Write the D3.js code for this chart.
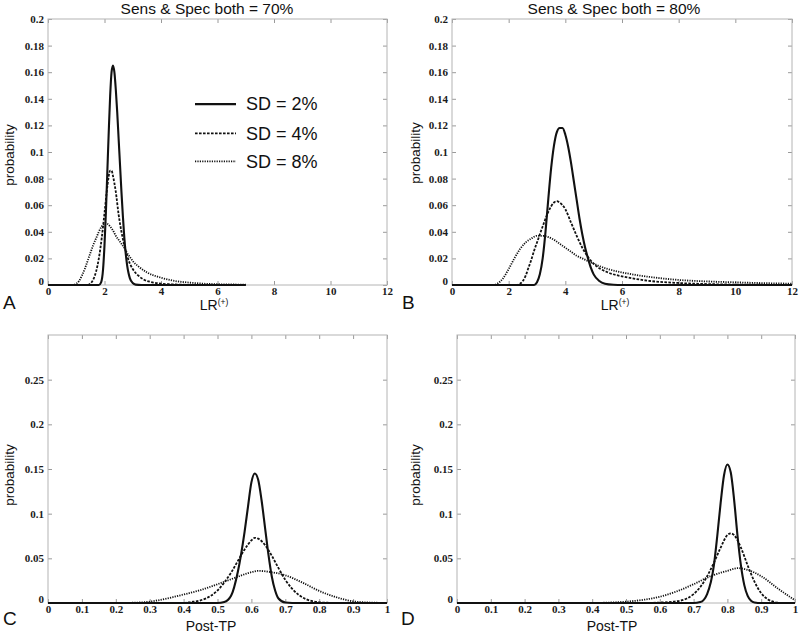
<!DOCTYPE html>
<html><head><meta charset="utf-8">
<script src="https://cdn.jsdelivr.net/npm/d3@7"></script>
<style>body{margin:0;background:#fff}svg{display:block}</style>
</head><body>
<svg id="chart" width="800" height="636"></svg>
<script>
// ---------- data ----------
const lrTicks = [0, 2, 4, 6, 8, 10, 12];
const probTicksLR = [0, 0.02, 0.04, 0.06, 0.08, 0.1, 0.12, 0.14, 0.16, 0.18, 0.2];
const ptpTicks = [0, 0.1, 0.2, 0.3, 0.4, 0.5, 0.6, 0.7, 0.8, 0.9, 1];
const probTicksPTP = [0, 0.05, 0.1, 0.15, 0.2, 0.25];
const titles = ["Sens & Spec both = 70%", "Sens & Spec both = 80%"];
const legendLabels = ["SD = 2%", "SD = 4%", "SD = 8%"];
const panelLetters = ["A", "B", "C", "D"];

// Panel A: LR(+) with sens & spec 70%
const lr70_sd2 = [[0,0],[1.8,0],[1.88,0.002],[1.95,0.012],[2.0,0.03],[2.05,0.055],[2.1,0.085],[2.15,0.115],[2.2,0.142],[2.25,0.16],[2.3,0.165],[2.35,0.16],[2.4,0.147],[2.45,0.13],[2.5,0.11],[2.55,0.09],[2.6,0.07],[2.65,0.052],[2.7,0.036],[2.75,0.024],[2.8,0.015],[2.85,0.009],[2.9,0.005],[3.0,0.0015],[3.1,0.0003],[3.3,0],[7,0]];
const lr70_sd4 = [[0,0],[1.4,0],[1.5,0.001],[1.6,0.004],[1.7,0.01],[1.8,0.02],[1.9,0.035],[2.0,0.054],[2.1,0.074],[2.2,0.086],[2.25,0.086],[2.3,0.082],[2.4,0.07],[2.5,0.053],[2.6,0.04],[2.7,0.03],[2.8,0.022],[2.9,0.016],[3.0,0.012],[3.2,0.007],[3.4,0.004],[3.7,0.002],[4.0,0.001],[4.5,0.0004],[5,0.0001],[7,0]];
const lr70_sd8 = [[0,0],[0.9,0],[1.0,0.001],[1.1,0.003],[1.2,0.007],[1.3,0.012],[1.4,0.018],[1.5,0.024],[1.6,0.03],[1.7,0.035],[1.8,0.04],[1.9,0.044],[2.0,0.046],[2.05,0.0465],[2.1,0.046],[2.2,0.044],[2.3,0.041],[2.4,0.037],[2.5,0.034],[2.6,0.031],[2.7,0.028],[2.8,0.024],[2.9,0.021],[3.0,0.018],[3.2,0.014],[3.5,0.0095],[4.0,0.0055],[4.5,0.003],[5,0.0018],[5.5,0.001],[6,0.0006],[7,0.0003]];

// Panel B: LR(+) with sens & spec 80%
const lr80_sd2 = [[0,0],[2.9,0],[3.0,0.002],[3.1,0.008],[3.2,0.02],[3.3,0.04],[3.4,0.065],[3.5,0.088],[3.6,0.105],[3.7,0.115],[3.8,0.118],[3.9,0.118],[4.0,0.113],[4.1,0.104],[4.2,0.092],[4.3,0.078],[4.4,0.064],[4.5,0.05],[4.6,0.038],[4.7,0.028],[4.8,0.02],[4.9,0.013],[5.0,0.008],[5.2,0.003],[5.4,0.001],[5.7,0.0002],[6,0],[12,0]];
const lr80_sd4 = [[0,0],[2.3,0],[2.4,0.001],[2.5,0.003],[2.6,0.007],[2.7,0.013],[2.8,0.019],[2.9,0.026],[3.0,0.032],[3.2,0.044],[3.4,0.055],[3.6,0.062],[3.7,0.063],[3.8,0.062],[4.0,0.057],[4.2,0.047],[4.4,0.037],[4.6,0.028],[4.8,0.021],[5.0,0.016],[5.5,0.0095],[6,0.0065],[6.5,0.0045],[7,0.003],[8,0.0015],[9,0.0007],[10,0.0003],[12,0.0001]];
const lr80_sd8 = [[0,0],[1.5,0],[1.6,0.001],[1.8,0.005],[2.0,0.012],[2.2,0.02],[2.4,0.027],[2.6,0.032],[2.8,0.035],[3.0,0.037],[3.2,0.037],[3.4,0.036],[3.6,0.034],[3.8,0.031],[4.0,0.028],[4.2,0.025],[4.4,0.022],[4.6,0.02],[4.8,0.018],[5.0,0.016],[5.5,0.012],[6,0.0095],[6.5,0.0075],[7,0.006],[8,0.0038],[9,0.0027],[10,0.002],[11,0.0014],[12,0.001]];

// Panel C: post-test probability, 70%
const ptp70_sd2 = [[0,0],[0.5,0],[0.52,0.001],[0.54,0.008],[0.56,0.035],[0.58,0.08],[0.59,0.108],[0.6,0.135],[0.61,0.145],[0.62,0.138],[0.63,0.115],[0.64,0.085],[0.65,0.055],[0.66,0.03],[0.67,0.014],[0.68,0.005],[0.7,0.0005],[0.72,0],[1,0]];
const ptp70_sd4 = [[0,0],[0.4,0],[0.42,0.001],[0.45,0.003],[0.48,0.008],[0.5,0.014],[0.52,0.023],[0.54,0.034],[0.56,0.047],[0.58,0.06],[0.6,0.07],[0.61,0.073],[0.62,0.072],[0.64,0.065],[0.66,0.053],[0.68,0.039],[0.7,0.026],[0.72,0.016],[0.74,0.009],[0.76,0.0045],[0.78,0.002],[0.8,0.0008],[0.83,0.0002],[0.86,0],[1,0]];
const ptp70_sd8 = [[0,0],[0.2,0],[0.25,0.0003],[0.3,0.0015],[0.35,0.005],[0.4,0.0095],[0.45,0.0145],[0.5,0.021],[0.55,0.028],[0.6,0.0345],[0.62,0.036],[0.65,0.035],[0.7,0.031],[0.75,0.023],[0.8,0.0135],[0.85,0.0065],[0.9,0.0019],[0.95,0.0005],[1,0.0001]];

// Panel D: post-test probability, 80%
const ptp80_sd2 = [[0,0],[0.7,0],[0.72,0.001],[0.74,0.01],[0.76,0.042],[0.77,0.075],[0.78,0.112],[0.79,0.143],[0.8,0.155],[0.81,0.146],[0.82,0.115],[0.83,0.075],[0.84,0.042],[0.85,0.02],[0.86,0.008],[0.87,0.0025],[0.88,0.0006],[0.9,0],[1,0]];
const ptp80_sd4 = [[0,0],[0.55,0],[0.6,0.0005],[0.65,0.002],[0.68,0.005],[0.7,0.01],[0.72,0.018],[0.74,0.03],[0.76,0.045],[0.78,0.062],[0.8,0.076],[0.81,0.078],[0.82,0.076],[0.84,0.062],[0.86,0.042],[0.88,0.024],[0.9,0.011],[0.92,0.004],[0.94,0.001],[0.96,0],[1,0]];
const ptp80_sd8 = [[0,0],[0.4,0],[0.45,0.0005],[0.5,0.0015],[0.55,0.0035],[0.6,0.007],[0.65,0.013],[0.7,0.021],[0.75,0.03],[0.8,0.036],[0.83,0.039],[0.86,0.037],[0.9,0.03],[0.95,0.016],[1.0,0.003]];

// ---------- layout ----------
const svg = d3.select("#chart");
const styles = [
  {w: 2.1, dash: null},
  {w: 1.8, dash: "2.6,1.4"},
  {w: 1.8, dash: "1.2,1.2"}
];
const panels = [
  {x0: 48, x1: 387, y0: 19, y1: 285, xd: [0, 12], yd: [0, 0.2], xt: lrTicks, yt: probTicksLR,
   series: [lr70_sd2, lr70_sd4, lr70_sd8], xlab: "LR", sup: "(+)", xlabX: 214, xlabY: 310,
   letterX: 3, letterY: 309, probX: 14, probY: 155, title: titles[0], titleX: 207, legend: true},
  {x0: 452, x1: 792, y0: 19, y1: 285, xd: [0, 12], yd: [0, 0.2], xt: lrTicks, yt: probTicksLR,
   series: [lr80_sd2, lr80_sd4, lr80_sd8], xlab: "LR", sup: "(+)", xlabX: 615, xlabY: 310,
   letterX: 402, letterY: 309, probX: 420, probY: 153, title: titles[1], titleX: 614},
  {x0: 48, x1: 387, y0: 335, y1: 603, xd: [0, 1], yd: [0, 0.3], xt: ptpTicks, yt: probTicksPTP,
   series: [ptp70_sd2, ptp70_sd4, ptp70_sd8], xlab: "Post-TP", xlabX: 211, xlabY: 631,
   letterX: 3, letterY: 625, probX: 14, probY: 475},
  {x0: 457, x1: 795, y0: 335, y1: 603, xd: [0, 1], yd: [0, 0.3], xt: ptpTicks, yt: probTicksPTP,
   series: [ptp80_sd2, ptp80_sd4, ptp80_sd8], xlab: "Post-TP", xlabX: 612, xlabY: 631,
   letterX: 401, letterY: 625, probX: 420, probY: 475}
];
const fmt = d => String(+(+d).toFixed(2));

panels.forEach((p, i) => {
  const x = d3.scaleLinear().domain(p.xd).range([p.x0, p.x1]);
  const y = d3.scaleLinear().domain(p.yd).range([p.y1, p.y0]);
  const g = svg.append("g");

  const tickCol = "#9a9a9a";
  const axes = [
    {ax: d3.axisBottom(x).tickValues(p.xt).tickSizeInner(-4).tickSizeOuter(0).tickPadding(2).tickFormat(fmt), tr: `translate(0,${p.y1})`},
    {ax: d3.axisTop(x).tickValues(p.xt).tickSizeInner(-4).tickSizeOuter(0).tickFormat(""), tr: `translate(0,${p.y0})`},
    {ax: d3.axisLeft(y).tickValues(p.yt).tickSizeInner(-4).tickSizeOuter(0).tickPadding(4).tickFormat(fmt), tr: `translate(${p.x0},0)`, cls: "yl"},
    {ax: d3.axisRight(y).tickValues(p.yt).tickSizeInner(-4).tickSizeOuter(0).tickFormat(""), tr: `translate(${p.x1},0)`}
  ];
  axes.forEach(a => {
    const ag = g.append("g").attr("transform", a.tr).call(a.ax);
    ag.select(".domain").remove();
    ag.selectAll(".tick line").attr("stroke", tickCol).attr("stroke-width", 1);
    ag.selectAll(".tick text")
      .attr("font-family", "'Liberation Serif', 'Times New Roman', serif")
      .attr("font-weight", "bold").attr("font-size", 11).attr("fill", "#1a1a1a");
    if (a.cls === "yl") {
      ag.selectAll(".tick").filter(d => d === 0).select("text").attr("dy", "-0.05em");
    }
  });

  // frame
  g.append("rect").attr("x", p.x0).attr("y", p.y0)
    .attr("width", p.x1 - p.x0).attr("height", p.y1 - p.y0)
    .attr("fill", "none").attr("stroke", "#b4b4b4").attr("stroke-width", 1);

  // curves
  const line = d3.line().x(d => x(d[0])).y(d => y(d[1])).curve(d3.curveMonotoneX);
  p.series.slice().reverse().forEach((s, k) => {
    const st = styles[2 - k];
    g.append("path").datum(s).attr("d", line)
      .attr("fill", "none").attr("stroke", "#111")
      .attr("stroke-width", st.w)
      .attr("stroke-dasharray", st.dash)
      .attr("stroke-linejoin", "round");
  });

  // texts
  const sans = "'Liberation Sans', Arial, sans-serif";
  if (p.title) {
    g.append("text").attr("x", p.titleX).attr("y", 14).attr("text-anchor", "middle")
      .attr("font-family", sans).attr("font-size", 15.5).attr("fill", "#111").text(p.title);
  }
  const xl = g.append("text").attr("x", p.xlabX).attr("y", p.xlabY).attr("text-anchor", "middle")
    .attr("font-family", sans).attr("font-size", 14).attr("fill", "#111").text(p.xlab);
  if (p.sup) {
    xl.append("tspan").attr("font-size", 8.5).attr("dy", -5.5).text(p.sup);
  }
  g.append("text").attr("transform", `translate(${p.probX},${p.probY}) rotate(-90)`)
    .attr("text-anchor", "middle").attr("font-family", sans).attr("font-size", 13.5)
    .attr("fill", "#111").text("probability");
  g.append("text").attr("x", p.letterX).attr("y", p.letterY)
    .attr("font-family", sans).attr("font-size", 19).attr("fill", "#111").text(panelLetters[i]);

  // legend
  if (p.legend) {
    const ly = [0.136, 0.114, 0.093];
    legendLabels.forEach((lab, k) => {
      const yy = y(ly[k]);
      g.append("line").attr("x1", 195).attr("x2", 236).attr("y1", yy).attr("y2", yy)
        .attr("stroke", "#111").attr("stroke-width", styles[k].w)
        .attr("stroke-dasharray", styles[k].dash);
      g.append("text").attr("x", 246).attr("y", yy).attr("dy", "0.35em")
        .attr("font-family", sans).attr("font-size", 18).attr("fill", "#111").text(lab);
    });
  }
});
</script>
</body></html>
